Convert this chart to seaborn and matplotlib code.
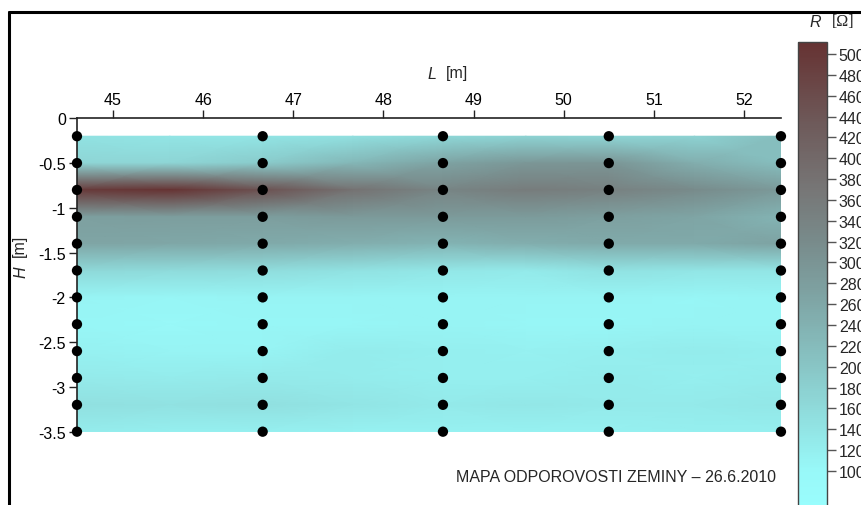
import numpy as np
import pandas as pd
import matplotlib

matplotlib.use('Agg')
import matplotlib.pyplot as plt
from matplotlib.colors import LinearSegmentedColormap, Normalize
from matplotlib.lines import Line2D
import seaborn as sns

# ==========================================
# data
# ==========================================
# probe columns (L, m) and depths of the measuring points (H, m)
probe_x = [44.6, 46.66, 48.66, 50.5, 52.41]
depths = [-0.2, -0.5, -0.8, -1.1, -1.4, -1.7, -2.0, -2.3, -2.6, -2.9, -3.2, -3.5]

# columns where the resistivity field was read (probe columns + midpoints)
field_x = [44.6, 45.63, 46.66, 47.66, 48.66, 49.58, 50.5, 51.45, 52.41]

# resistivity R [Ohm], rows = depths, columns = field_x
res_field = [
    [145, 140, 140, 150, 165, 175, 170, 175, 215],
    [170, 170, 190, 230, 270, 295, 300, 245, 215],
    [495, 510, 450, 380, 335, 355, 345, 320, 290],
    [275, 280, 280, 290, 285, 285, 275, 265, 235],
    [265, 260, 255, 245, 235, 245, 255, 255, 270],
    [165, 160, 155, 145, 135, 130, 145, 140, 140],
    [110, 105, 110, 110, 110, 110, 110, 105, 110],
    [105, 100, 105, 105, 110, 105, 105, 110, 110],
    [115, 110, 110, 125, 120, 115, 120, 125, 120],
    [130, 125, 130, 125, 120, 120, 125, 120, 125],
    [150, 145, 150, 140, 130, 135, 130, 130, 135],
    [125, 120, 120, 115, 115, 115, 115, 120, 120],
]

x_ticks = [45, 46, 47, 48, 49, 50, 51, 52]
y_ticks = [0, -0.5, -1, -1.5, -2, -2.5, -3, -3.5]
cbar_ticks = list(range(100, 520, 20))

# ==========================================
# style
# ==========================================
sns.set_theme(style="white")
plt.rcParams['font.family'] = ['Liberation Sans', 'DejaVu Sans']
plt.rcParams['axes.unicode_minus'] = False
fs = 11.5

cmap = LinearSegmentedColormap.from_list(
    "odpor",
    [(0.00, "#9affff"), (0.11, "#98f8f8"), (0.24, "#8fdada"), (0.33, "#88c4c4"),
     (0.46, "#7fa6a6"), (0.59, "#788a8a"), (0.69, "#777777"), (0.83, "#6e5a5a"),
     (1.00, "#663232")])
norm = Normalize(vmin=50, vmax=512)

fig = plt.figure(figsize=(8.62, 5.06), dpi=100)
ax = fig.add_axes([0.0893, 0.1449, 0.8167, 0.6193])

# smooth resistivity field
gx, gy = np.meshgrid(field_x, depths)
ax.pcolormesh(gx, gy, np.array(res_field), shading='gouraud', cmap=cmap, norm=norm)

# measuring points
px, py = np.meshgrid(probe_x, depths)
pts = pd.DataFrame({'L': px.ravel(), 'H': py.ravel()})
sns.scatterplot(data=pts, x='L', y='H', ax=ax, color='black', s=55,
                edgecolor='none', clip_on=False, zorder=5)

ax.set_xlim(44.6, 52.41)
ax.set_ylim(-3.5, 0)
ax.xaxis.tick_top()
ax.set_xticks(x_ticks)
ax.set_xticklabels([str(v) for v in x_ticks], fontsize=fs)
ax.set_yticks(y_ticks)
ax.set_yticklabels(['0', '-0.5', '-1', '-1.5', '-2', '-2.5', '-3', '-3.5'], fontsize=fs)
ax.tick_params(axis='both', direction='out', length=6, width=1, color='#222222',
               pad=2, labelcolor='black')
ax.tick_params(axis='x', top=True, bottom=False)
ax.tick_params(axis='y', left=True)
for side in ['right', 'bottom']:
    ax.spines[side].set_visible(False)
for side in ['top', 'left']:
    ax.spines[side].set_color('#222222')
    ax.spines[side].set_linewidth(1.2)
ax.set_xlabel('')
ax.set_ylabel('')

# axis titles
fig.text(0.501, 0.852, 'L', style='italic', fontsize=fs, ha='center', va='center')
fig.text(0.530, 0.855, '[m]', fontsize=fs, ha='center', va='center')
fig.text(0.024, 0.462, 'H', style='italic', fontsize=fs, ha='center', va='center', rotation=90)
fig.text(0.022, 0.515, '[m]', fontsize=fs, ha='center', va='center', rotation=90)

# colorbar (its labels run past the right edge, as in the original crop)
cax = fig.add_axes([0.9258, -0.0356, 0.0336, 0.9516])
cb = fig.colorbar(plt.cm.ScalarMappable(norm=norm, cmap=cmap), cax=cax)
cb.set_ticks(cbar_ticks)
cb.set_ticklabels([str(v) for v in cbar_ticks])
cb.ax.tick_params(length=6.5, width=1, color='#555555', labelsize=fs, pad=2)
cb.outline.set_edgecolor('#444444')
cb.outline.set_linewidth(1)
fig.text(0.946, 0.9565, 'R', style='italic', fontsize=fs, ha='center', va='center')
fig.text(0.978, 0.9565, '[Ω]', fontsize=fs, ha='center', va='center',
         family=['Liberation Serif', 'DejaVu Serif'])

fig.text(0.9002, 0.0573, 'MAPA ODPOROVOSTI ZEMINY – 26.6.2010', fontsize=fs,
         ha='right', va='center')

# outer frame (cut by the picture edges)
fig.add_artist(Line2D([0.0104, 1.0], [0.9743, 0.9743], color='black', lw=2.2))
fig.add_artist(Line2D([0.0104, 0.0104], [0.0, 0.9743], color='black', lw=2.2))

plt.savefig('out.png', dpi=100)
plt.close()
